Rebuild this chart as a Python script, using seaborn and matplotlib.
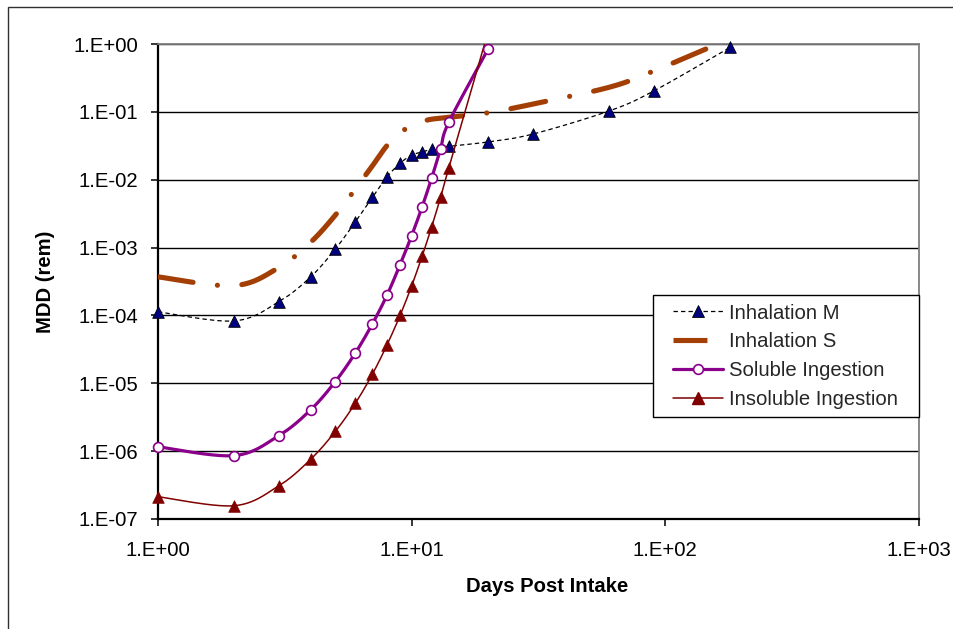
import numpy as np
import pandas as pd
import matplotlib
matplotlib.use("Agg")
import matplotlib.pyplot as plt
import seaborn as sns
from matplotlib.lines import Line2D
from matplotlib.legend_handler import HandlerLine2D
from matplotlib.patches import Rectangle
from matplotlib.ticker import FixedLocator, FixedFormatter, NullLocator

# ---------------- data ----------------
days_m = [1, 2, 3, 4, 5, 6, 7, 8, 9, 10, 11, 12, 14, 20, 30, 60, 90, 180]
mdd_m = [1.13e-4, 8.3e-5, 1.6e-4, 3.7e-4, 9.5e-4, 2.4e-3, 5.5e-3, 1.1e-2, 1.75e-2,
         2.3e-2, 2.57e-2, 2.8e-2, 3.1e-2, 3.6e-2, 4.7e-2, 0.103, 0.203, 0.89]

days_s = [1, 2, 3, 4, 5, 6, 7, 8, 9, 10, 11, 12, 14, 20, 30, 60, 90, 180]
mdd_s = [3.7e-4, 2.75e-4, 5.1e-4, 1.2e-3, 3.0e-3, 7.3e-3, 1.6e-2, 3.2e-2, 4.9e-2,
         6.3e-2, 7.2e-2, 7.8e-2, 8.3e-2, 9.7e-2, 0.13, 0.23, 0.40, 1.2]

days_sol = [1, 2, 3, 4, 5, 6, 7, 8, 9, 10, 11, 12, 13, 14, 20]
mdd_sol = [1.16e-6, 8.6e-7, 1.7e-6, 4.07e-6, 1.06e-5, 2.8e-5, 7.5e-5, 2.0e-4, 5.6e-4,
           1.5e-3, 4.0e-3, 1.07e-2, 2.84e-2, 7.0e-2, 0.84]

days_ins = [1, 2, 3, 4, 5, 6, 7, 8, 9, 10, 11, 12, 13, 14, 20]
mdd_ins = [2.13e-7, 1.57e-7, 3.1e-7, 7.6e-7, 1.95e-6, 5.1e-6, 1.36e-5, 3.7e-5, 1.0e-4,
           2.73e-4, 7.5e-4, 2.04e-3, 5.5e-3, 1.48e-2, 1.5]

series_names = ["Inhalation M", "Inhalation S", "Soluble Ingestion", "Insoluble Ingestion"]

xtick_vals = [1e0, 1e1, 1e2, 1e3]
xtick_labels = ["1.E+00", "1.E+01", "1.E+02", "1.E+03"]
ytick_vals = [1e-7, 1e-6, 1e-5, 1e-4, 1e-3, 1e-2, 1e-1, 1e0]
ytick_labels = ["1.E-07", "1.E-06", "1.E-05", "1.E-04", "1.E-03", "1.E-02", "1.E-01", "1.E+00"]

x_label = "Days Post Intake"
y_label = "MDD (rem)"


def smooth_loglog(x, y, n=40):
    """Excel-style smoothed line (Catmull-Rom Bezier) computed in log-log space."""
    lx = np.log10(np.asarray(x, float))
    ly = np.log10(np.asarray(y, float))
    P = np.column_stack([lx, ly])
    Pp = np.vstack([P[0], P, P[-1]])
    out = []
    t = np.linspace(0, 1, n)[:, None]
    for i in range(len(P) - 1):
        p0, p1, p2, p3 = Pp[i], Pp[i + 1], Pp[i + 2], Pp[i + 3]
        c1 = p1 + (p2 - p0) / 6.0
        c2 = p2 - (p3 - p1) / 6.0
        seg = ((1 - t) ** 3) * p1 + 3 * ((1 - t) ** 2) * t * c1 + 3 * (1 - t) * t ** 2 * c2 + t ** 3 * p2
        out.append(seg if i == 0 else seg[1:])
    out = np.vstack(out)
    return pd.DataFrame({"x": 10 ** out[:, 0], "y": 10 ** out[:, 1]})


# ---------------- style ----------------
sns.set_theme(style="white")
plt.rcParams["font.family"] = ["Liberation Sans", "DejaVu Sans"]
FS = 14.6

W, H = 954, 629
fig = plt.figure(figsize=(W / 100, H / 100), dpi=100)
fig.patch.set_facecolor("white")
AX_L, AX_R, AX_T, AX_B = 158, 919, 44, 519
ax = fig.add_axes([AX_L / W, 1 - AX_B / H, (AX_R - AX_L) / W, (AX_B - AX_T) / H])
ax.set_xscale("log")
ax.set_yscale("log")
ax.set_xlim(1, 1000)
ax.set_ylim(1e-7, 1)

# outer chart frame (only left/top visible in the reference)
fig.patches.append(Rectangle((8.5 / W, -0.2), 1.5, (1 - 7 / H) + 0.2, transform=fig.transFigure,
                             fill=False, edgecolor="#303030", lw=1.0, zorder=0))

c_m_line = "black"
c_m_mark = "#000080"
c_s = "#A33F05"
c_sol = "#8B008B"
c_ins = "#800000"

ymax = ax.get_ylim()[1]

# Inhalation M
d = smooth_loglog(days_m, mdd_m)
sns.lineplot(data=d, x="x", y="y", ax=ax, sort=False, estimator=None, color=c_m_line, lw=0.9, zorder=3)
ax.lines[-1].set_dashes((3.5, 2.5))
pm = pd.DataFrame({"x": days_m, "y": mdd_m})
pm = pm[pm.y <= ymax]
sns.scatterplot(data=pm, x="x", y="y", ax=ax, marker="^", s=70, color=c_m_mark, edgecolor="black",
                linewidth=0.6, clip_on=False, zorder=4)

# Inhalation S
d = smooth_loglog(days_s, mdd_s)
sns.lineplot(data=d, x="x", y="y", ax=ax, sort=False, estimator=None, color=c_s, lw=3.7, zorder=3)
ln = ax.lines[-1]
ln.set_dashes((6.9, 4.77, 0.01, 4.77))
ln.set_dash_capstyle("round")

# Soluble ingestion
d = smooth_loglog(days_sol, mdd_sol)
sns.lineplot(data=d, x="x", y="y", ax=ax, sort=False, estimator=None, color=c_sol, lw=2.3, zorder=5)
ps = pd.DataFrame({"x": days_sol, "y": mdd_sol})
ps = ps[ps.y <= ymax]
sns.scatterplot(data=ps, x="x", y="y", ax=ax, marker="o", s=50, color="white", edgecolor=c_sol,
                linewidth=1.2, clip_on=False, zorder=6)

# Insoluble ingestion
d = smooth_loglog(days_ins, mdd_ins)
sns.lineplot(data=d, x="x", y="y", ax=ax, sort=False, estimator=None, color=c_ins, lw=1.1, zorder=5)
pi = pd.DataFrame({"x": days_ins, "y": mdd_ins})
pi = pi[pi.y <= ymax]
sns.scatterplot(data=pi, x="x", y="y", ax=ax, marker="^", s=70, color=c_ins, edgecolor=c_ins,
                linewidth=0.5, clip_on=False, zorder=6)

# ---------------- axes styling ----------------
ax.xaxis.set_major_locator(FixedLocator(xtick_vals))
ax.xaxis.set_major_formatter(FixedFormatter(xtick_labels))
ax.yaxis.set_major_locator(FixedLocator(ytick_vals))
ax.yaxis.set_major_formatter(FixedFormatter(ytick_labels))
ax.xaxis.set_minor_locator(NullLocator())
ax.yaxis.set_minor_locator(NullLocator())

ax.grid(False)
ax.yaxis.grid(True, color="black", lw=1.0, zorder=1)
ax.set_axisbelow(True)

for side in ["left", "bottom"]:
    ax.spines[side].set_color("black")
    ax.spines[side].set_linewidth(1.6)
for side in ["top", "right"]:
    ax.spines[side].set_visible(True)
    ax.spines[side].set_color("#7f7f7f")
    ax.spines[side].set_linewidth(1.3)

ax.tick_params(axis="both", which="major", direction="out", length=5, width=1.1, color="black",
               labelsize=FS, labelcolor="black", bottom=True, left=True)
ax.tick_params(axis="x", pad=11)
ax.tick_params(axis="y", pad=9)

ax.set_xlabel(x_label, fontsize=FS, fontweight="bold", color="black")
ax.set_ylabel(y_label, fontsize=FS, fontweight="bold", color="black")
ax.xaxis.set_label_coords((546.7 - AX_L) / (AX_R - AX_L), -(586 - AX_B) / (AX_B - AX_T))
ax.yaxis.set_label_coords(-(AX_L - 46) / (AX_R - AX_L), 0.5)
ax.xaxis.label.set_va("center")
ax.yaxis.label.set_va("center")

# ---------------- legend ----------------
handles = [
    Line2D([], [], color=c_m_line, lw=0.9, dashes=(3.5, 2.5), marker="^", markersize=8,
           markerfacecolor=c_m_mark, markeredgecolor="black", markeredgewidth=0.6),
    Line2D([], [], color=c_s, lw=3.7, dashes=(6.6, 60), dash_capstyle="butt"),
    Line2D([], [], color=c_sol, lw=2.3, marker="o", markersize=7, markerfacecolor="white",
           markeredgecolor=c_sol, markeredgewidth=1.2),
    Line2D([], [], color=c_ins, lw=1.1, marker="^", markersize=8, markerfacecolor=c_ins,
           markeredgecolor=c_ins),
]
hm = {h: HandlerLine2D(numpoints=1, xpad=0.55) for h in handles}
LG_L, LG_R, LG_T = 653, 919, 295
leg = ax.legend(handles, series_names, loc="upper left", mode="expand",
                bbox_to_anchor=((LG_L - AX_L) / (AX_R - AX_L), 0,
                                (LG_R - LG_L) / (AX_R - AX_L), (AX_B - LG_T) / (AX_B - AX_T)),
                bbox_transform=ax.transAxes,
                borderaxespad=0, fontsize=FS, frameon=True, fancybox=False, shadow=False,
                handlelength=3.05, handletextpad=0.3, borderpad=0.42, labelspacing=0.48,
                handler_map=hm)
leg.get_frame().set_edgecolor("black")
leg.get_frame().set_linewidth(1.0)
leg.get_frame().set_facecolor("white")
leg.get_frame().set_alpha(1.0)
leg.set_zorder(10)

fig.savefig("out.png", dpi=100, facecolor="white")
